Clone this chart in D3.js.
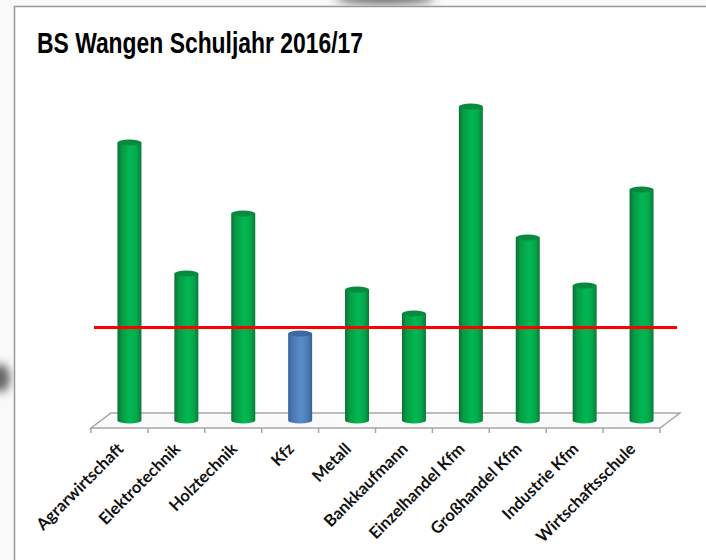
<!DOCTYPE html>
<html>
<head>
<meta charset="utf-8">
<script src="https://cdn.jsdelivr.net/npm/d3@7"></script>
<style>
  body { margin: 0; background: #fff; }
  svg { display: block; }
</style>
</head>
<body>
<script>
// chart data
var categories = ['Agrarwirtschaft', 'Elektrotechnik', 'Holztechnik', 'Kfz', 'Metall',
  'Bankkaufmann', 'Einzelhandel Kfm', 'Großhandel Kfm', 'Industrie Kfm', 'Wirtschaftsschule'];
var values = [278, 147, 207, 87, 131, 107, 314, 183, 135, 231];
var highlight = ['Kfz'];
var threshold = 93;
var title = 'BS Wangen Schuljahr 2016/17';

var w = 706, h = 560;

var svg = d3.select('body').append('svg')
  .attr('width', w)
  .attr('height', h);

var defs = svg.append('defs');

// cylinder gradients
function cylGrad(id, stops) {
  var g = defs.append('linearGradient').attr('id', id)
    .attr('x1', '0%').attr('x2', '100%').attr('y1', '0%').attr('y2', '0%');
  stops.forEach(function(s) {
    g.append('stop').attr('offset', s[0]).attr('stop-color', s[1]);
  });
}
cylGrad('gGreen', [['0%', '#0b6f34'], ['18%', '#079a45'], ['55%', '#00b852'], ['80%', '#04a84b'], ['100%', '#0a7a3a']]);
cylGrad('gBlue', [['0%', '#3a6499'], ['18%', '#4a78b4'], ['55%', '#5a8ccb'], ['80%', '#4c7db8'], ['100%', '#38608f']]);

defs.append('filter').attr('id', 'blur')
  .append('feGaussianBlur').attr('stdDeviation', 5);

// background behind the slide panel
svg.append('rect').attr('width', w).attr('height', h).attr('fill', '#f9f9f9');
var bg = svg.append('g').attr('filter', 'url(#blur)').attr('opacity', 0.75);
bg.append('ellipse').attr('cx', 385).attr('cy', -2).attr('rx', 50).attr('ry', 6).attr('fill', '#333');
bg.append('ellipse').attr('cx', 0).attr('cy', 378).attr('rx', 10).attr('ry', 14).attr('fill', '#333');

// panel
svg.append('rect')
  .attr('x', 14.5).attr('y', 6.5)
  .attr('width', w).attr('height', h)
  .attr('fill', '#fff')
  .attr('stroke', '#999')
  .attr('stroke-width', 1.5);

svg.append('text')
  .attr('x', 37).attr('y', 53)
  .attr('font-family', 'Liberation Sans, Arial, sans-serif')
  .attr('font-weight', 'bold')
  .attr('font-size', 30)
  .attr('textLength', 326)
  .attr('lengthAdjust', 'spacingAndGlyphs')
  .attr('fill', '#000')
  .text(title);

// scales
var frontY = 428;
var depth = {x: 20, y: -15};
var x = d3.scaleBand().domain(categories).range([91, 660]);
var y = d3.scaleLinear().domain([0, 350]).range([420.5, 70.5]);

// floor
var x0 = x.range()[0], x1 = x.range()[1];
svg.append('path')
  .attr('d', 'M' + x0 + ',' + frontY + 'L' + x1 + ',' + frontY +
    'L' + (x1 + depth.x) + ',' + (frontY + depth.y) +
    'L' + (x0 + depth.x) + ',' + (frontY + depth.y) + 'Z')
  .attr('fill', '#fafafa')
  .attr('stroke', '#a6a6a6')
  .attr('stroke-width', 1.5);

// category axis ticks
var tickPos = categories.map(function(c) { return x(c); }).concat([x1]);
svg.selectAll('.tick').data(tickPos).enter().append('line')
  .attr('x1', function(d) { return d; })
  .attr('x2', function(d) { return d; })
  .attr('y1', frontY)
  .attr('y2', frontY + 5)
  .attr('stroke', '#a6a6a6')
  .attr('stroke-width', 1.5);

// bars as cylinders
var rx = 12, ry = 3;
var data = categories.map(function(c, i) { return {cat: c, val: values[i]}; });
var bars = svg.selectAll('.bar').data(data).enter().append('g')
  .attr('transform', function(d) {
    return 'translate(' + (x(d.cat) + x.bandwidth() / 2 + depth.x / 2) + ',0)';
  });

function isHi(d) { return highlight.indexOf(d.cat) >= 0; }

bars.append('ellipse')
  .attr('cx', 0).attr('cy', y(0))
  .attr('rx', rx).attr('ry', ry)
  .attr('fill', function(d) { return isHi(d) ? 'url(#gBlue)' : 'url(#gGreen)'; });
bars.append('rect')
  .attr('x', -rx)
  .attr('y', function(d) { return y(d.val); })
  .attr('width', rx * 2)
  .attr('height', function(d) { return y(0) - y(d.val); })
  .attr('fill', function(d) { return isHi(d) ? 'url(#gBlue)' : 'url(#gGreen)'; });
bars.append('ellipse')
  .attr('cx', 0).attr('cy', function(d) { return y(d.val); })
  .attr('rx', rx).attr('ry', ry)
  .attr('fill', function(d) { return isHi(d) ? '#3b689f' : '#058a3e'; });

// threshold line
svg.append('line')
  .attr('x1', x0 + 3).attr('x2', x1 + 17)
  .attr('y1', y(threshold)).attr('y2', y(threshold))
  .attr('stroke', '#ff0000')
  .attr('stroke-width', 3);

// category labels
svg.selectAll('.lbl').data(categories).enter().append('text')
  .attr('transform', function(d) {
    return 'translate(' + (x(d) + x.bandwidth() / 2 + 5) + ',' + 450 + ') rotate(-45)';
  })
  .attr('text-anchor', 'end')
  .attr('font-family', 'Lato, Open Sans, sans-serif')
  .attr('font-weight', 'bold')
  .attr('font-size', 16.5)
  .attr('fill', '#111')
  .text(function(d) { return d; });
</script>
</body>
</html>
